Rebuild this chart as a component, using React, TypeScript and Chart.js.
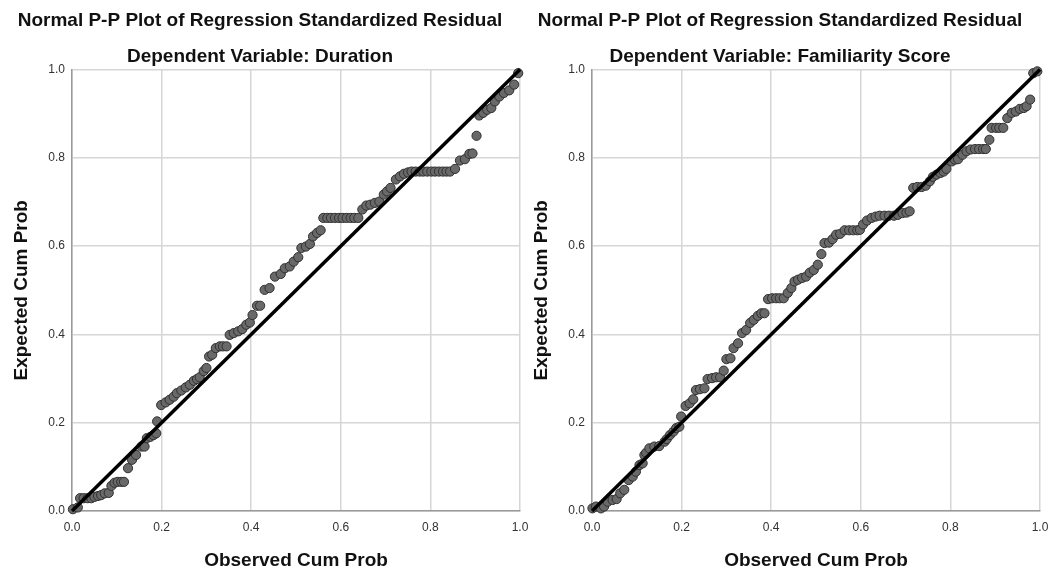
import React, { useEffect, useRef } from "react";
import { Chart, registerables } from "chart.js";

Chart.register(...registerables);

const axisTicks = [0, 0.2, 0.4, 0.6, 0.8, 1.0];
const chartTitle = "Normal P-P Plot of Regression Standardized Residual";
const xAxisTitle = "Observed Cum Prob";
const yAxisTitle = "Expected Cum Prob";
const subtitles = ["Dependent Variable: Duration", "Dependent Variable: Familiarity Score"];
const referenceLine = [0, 1];

const durationObs = [
  0.002, 0.013, 0.018, 0.026, 0.035, 0.043, 0.05, 0.058, 0.065, 0.073, 0.082, 0.088, 0.095, 0.102, 0.11, 0.116,
  0.125, 0.134, 0.143, 0.155, 0.162, 0.167, 0.175, 0.182, 0.188, 0.19, 0.199, 0.209, 0.218, 0.227, 0.234, 0.244,
  0.254, 0.263, 0.272, 0.279, 0.285, 0.294, 0.3, 0.306, 0.313, 0.321, 0.33, 0.337, 0.345, 0.352, 0.361, 0.371,
  0.38, 0.389, 0.397, 0.403, 0.413, 0.42, 0.43, 0.441, 0.453, 0.466, 0.475, 0.486, 0.495, 0.505, 0.512, 0.522,
  0.531, 0.538, 0.547, 0.555, 0.561, 0.57, 0.578, 0.587, 0.596, 0.604, 0.613, 0.622, 0.63, 0.639, 0.648, 0.657,
  0.666, 0.676, 0.686, 0.696, 0.703, 0.711, 0.723, 0.732, 0.741, 0.75, 0.758, 0.767, 0.776, 0.784, 0.793, 0.802,
  0.81, 0.819, 0.828, 0.836, 0.844, 0.855, 0.866, 0.877, 0.887, 0.894, 0.903, 0.909, 0.918, 0.927, 0.936, 0.944,
  0.954, 0.964, 0.976, 0.987, 0.996,
];
const durationExp = [
  0.004, 0.008, 0.029, 0.029, 0.029, 0.029, 0.032, 0.034, 0.036, 0.04, 0.041, 0.057, 0.064, 0.066, 0.066, 0.066,
  0.097, 0.116, 0.127, 0.146, 0.146, 0.165, 0.168, 0.172, 0.176, 0.203, 0.24, 0.246, 0.252, 0.259, 0.267, 0.273,
  0.28, 0.286, 0.295, 0.299, 0.303, 0.317, 0.324, 0.35, 0.354, 0.369, 0.373, 0.373, 0.373, 0.399, 0.403, 0.407,
  0.412, 0.422, 0.427, 0.444, 0.465, 0.465, 0.501, 0.505, 0.531, 0.537, 0.55, 0.554, 0.565, 0.575, 0.596, 0.599,
  0.605, 0.622, 0.63, 0.636, 0.664, 0.664, 0.664, 0.664, 0.664, 0.664, 0.664, 0.664, 0.664, 0.664, 0.683, 0.692,
  0.694, 0.698, 0.701, 0.717, 0.724, 0.732, 0.751, 0.758, 0.764, 0.767, 0.769, 0.769, 0.769, 0.769, 0.769, 0.769,
  0.769, 0.769, 0.769, 0.769, 0.769, 0.775, 0.794, 0.797, 0.809, 0.81, 0.85, 0.896, 0.902, 0.909, 0.913, 0.928,
  0.939, 0.947, 0.953, 0.966, 0.992,
];

const familiarityObs = [
  0.001, 0.009, 0.02, 0.027, 0.035, 0.046, 0.055, 0.063, 0.072, 0.082, 0.091, 0.098, 0.106, 0.113, 0.117, 0.121,
  0.128, 0.139, 0.15, 0.162, 0.167, 0.174, 0.182, 0.188, 0.195, 0.199, 0.209, 0.218, 0.226, 0.232, 0.241, 0.251,
  0.258, 0.268, 0.277, 0.286, 0.294, 0.3, 0.309, 0.316, 0.326, 0.335, 0.344, 0.353, 0.361, 0.37, 0.378, 0.385,
  0.393, 0.402, 0.411, 0.419, 0.428, 0.437, 0.445, 0.452, 0.46, 0.469, 0.478, 0.486, 0.495, 0.504, 0.512, 0.519,
  0.529, 0.537, 0.545, 0.554, 0.564, 0.574, 0.583, 0.592, 0.598, 0.605, 0.614, 0.624, 0.633, 0.642, 0.653, 0.663,
  0.674, 0.683, 0.693, 0.702, 0.709, 0.717, 0.726, 0.736, 0.745, 0.754, 0.761, 0.769, 0.778, 0.785, 0.791, 0.803,
  0.81, 0.817, 0.827, 0.836, 0.845, 0.855, 0.864, 0.873, 0.879, 0.887, 0.892, 0.902, 0.909, 0.918, 0.927, 0.937,
  0.946, 0.955, 0.964, 0.97, 0.978, 0.985, 0.994,
];
const familiarityExp = [
  0.006, 0.01, 0.006, 0.01, 0.021, 0.025, 0.027, 0.04, 0.048, 0.07, 0.078, 0.089, 0.104, 0.108, 0.127, 0.132,
  0.142, 0.146, 0.147, 0.157, 0.163, 0.172, 0.18, 0.188, 0.191, 0.214, 0.238, 0.244, 0.253, 0.274, 0.276, 0.278,
  0.299, 0.301, 0.303, 0.303, 0.318, 0.344, 0.346, 0.369, 0.38, 0.403, 0.41, 0.426, 0.433, 0.442, 0.448, 0.448,
  0.48, 0.482, 0.482, 0.482, 0.482, 0.494, 0.505, 0.52, 0.524, 0.528, 0.531, 0.54, 0.546, 0.558, 0.582, 0.607,
  0.608, 0.616, 0.626, 0.628, 0.636, 0.636, 0.636, 0.636, 0.637, 0.649, 0.658, 0.664, 0.667, 0.669, 0.669, 0.669,
  0.669, 0.671, 0.675, 0.676, 0.679, 0.732, 0.734, 0.734, 0.737, 0.747, 0.757, 0.762, 0.766, 0.769, 0.775, 0.792,
  0.796, 0.797, 0.807, 0.815, 0.819, 0.82, 0.82, 0.82, 0.82, 0.841, 0.868, 0.868, 0.868, 0.868, 0.89, 0.902,
  0.905, 0.911, 0.913, 0.917, 0.932, 0.992, 0.996,
];

const FONT = '"Liberation Sans", Arial, Helvetica, sans-serif';
const CANVAS_W = 540;
const PLOT_RIGHT = 520;

function PPPlot(props: { subtitle: string; obs: number[]; exp: number[] }) {
  const ref = useRef<HTMLCanvasElement | null>(null);
  useEffect(() => {
    if (!ref.current) return;
    const points = props.obs.map((x, i) => ({ x, y: props.exp[i] }));
    const line = referenceLine.map((v) => ({ x: v, y: v }));
    const tickSetter = (s: any) => {
      s.ticks = axisTicks.map((v) => ({ value: v }));
    };
    const chart = new Chart(ref.current, {
      type: "scatter",
      data: {
        datasets: [
          {
            data: line,
            showLine: true,
            borderColor: "#000000",
            borderWidth: 3.5,
            pointRadius: 0,
            clip: false as any,
          },
          {
            data: points,
            backgroundColor: "#696969",
            borderColor: "#303030",
            borderWidth: 1,
            pointRadius: 4.6,
            clip: false as any,
          },
        ],
      },
      options: {
        animation: false,
        responsive: false,
        devicePixelRatio: 1,
        layout: { padding: { left: 0, right: CANVAS_W - PLOT_RIGHT, top: 0, bottom: 0 } },
        plugins: {
          legend: { display: false },
          tooltip: { enabled: false },
          title: {
            display: true,
            text: chartTitle,
            color: "#111111",
            font: { family: FONT, size: 19, weight: "bold" },
            padding: { top: 9, bottom: 0 },
          },
          subtitle: {
            display: true,
            text: props.subtitle,
            color: "#111111",
            font: { family: FONT, size: 19, weight: "bold" },
            padding: { top: 14, bottom: 1 },
          },
        },
        scales: {
          x: {
            type: "linear",
            min: 0,
            max: 1,
            afterBuildTicks: tickSetter,
            afterFit: (s: any) => {
              s.height = 61;
            },
            grid: { color: "#d6d6d6", lineWidth: 1.5, drawTicks: false },
            border: { display: true, color: "#9a9a9a", width: 1.5 },
            ticks: {
              padding: 9,
              color: "#333333",
              font: { family: FONT, size: 12 },
              maxRotation: 0,
              callback: (v: any) => Number(v).toFixed(1),
            },
            title: {
              display: true,
              text: xAxisTitle,
              color: "#111111",
              font: { family: FONT, size: 19, weight: "bold" },
              padding: { top: 0, bottom: 0 },
            },
          },
          y: {
            type: "linear",
            min: 0,
            max: 1,
            afterBuildTicks: tickSetter,
            afterFit: (s: any) => {
              s.width = 72;
            },
            grid: { color: "#d6d6d6", lineWidth: 1.5, drawTicks: false },
            border: { display: true, color: "#9a9a9a", width: 1.5 },
            ticks: {
              padding: 7,
              color: "#333333",
              font: { family: FONT, size: 12 },
              callback: (v: any) => Number(v).toFixed(1),
            },
            title: {
              display: true,
              text: yAxisTitle,
              color: "#111111",
              font: { family: FONT, size: 19, weight: "bold" },
              padding: { top: 10, bottom: 0 },
            },
          },
        },
      },
    });
    return () => chart.destroy();
  }, [props.subtitle, props.obs, props.exp]);
  return <canvas ref={ref} width={CANVAS_W} height={572} style={{ display: "block" }} />;
}

export default function App() {
  return (
    <div style={{ position: "fixed", left: 0, top: 0, width: 1051, height: 572, background: "#ffffff", overflow: "hidden" }}>
      <div style={{ position: "absolute", left: 0, top: 0 }}>
        <PPPlot subtitle={subtitles[0]} obs={durationObs} exp={durationExp} />
      </div>
      <div style={{ position: "absolute", left: 520, top: 0 }}>
        <PPPlot subtitle={subtitles[1]} obs={familiarityObs} exp={familiarityExp} />
      </div>
    </div>
  );
}
